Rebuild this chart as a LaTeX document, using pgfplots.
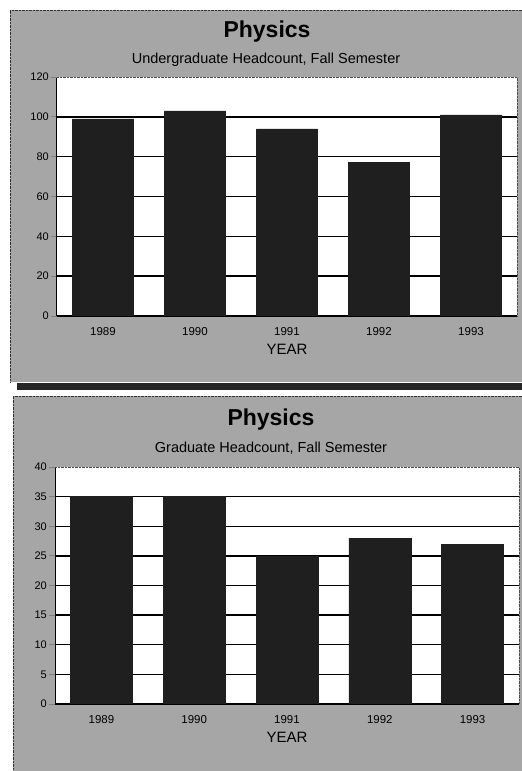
\documentclass[border=0pt]{standalone}
\usepackage{pgfplots}
\pgfplotsset{compat=1.18}
\usepackage{fontspec}
\setmainfont{Liberation Sans}
\definecolor{panel}{gray}{0.65}
\definecolor{barc}{gray}{0.12}
\pgfplotsset{
  physbars/.style={
    scale only axis,
    xmin=-0.5, xmax=4.5,
    ymin=0,
    axis lines=left,
    axis line style={-},
    x axis line style={densely dotted, line width=1pt},
    y axis line style={line width=1pt},
    axis background/.style={fill=white},
    xtick={0,1,2,3,4},
    xticklabels={1989,1990,1991,1992,1993},
    xtick style={draw=none},
    tick align=outside,
    major tick length=6pt,
    ytick style={line width=0.8pt},
    ymajorgrids,
    grid style={black, line width=1.4pt},
    extra y tick style={grid=none},
    /pgf/number format/assume math mode=true,
    yticklabel style={font=\fontsize{11}{12}\selectfont, inner sep=2pt},
    xticklabel style={font=\fontsize{11.5}{12}\selectfont, anchor=center, yshift=-10pt},
    xlabel={YEAR},
    x label style={font=\fontsize{15}{16}\selectfont, at={(axis description cs:0.5,0)}, anchor=center, yshift=-33pt},
    after end axis/.code={\draw[densely dotted, gray!60!black] (rel axis cs:0,1) -- (rel axis cs:1,1) -- (rel axis cs:1,0);},
  }
}
\begin{document}
\begin{tikzpicture}[x=1pt,y=1pt]
\useasboundingbox (0,0) rectangle (522,771);
\fill[white] (0,0) rectangle (522,771);
\fill[panel] (10,389) rectangle (522,761);
\fill[black!85] (17,381) rectangle (522,388);
\fill[panel] (13,0) rectangle (522,375);
\draw[densely dotted, gray!40!black] (10,389) -- (10,761) -- (522,761);
\draw[densely dotted, gray!40!black] (13,0) -- (13,375) -- (522,375);

\node[font=\bfseries\fontsize{23}{26}\selectfont] at (267,739) {Physics};
\node[font=\fontsize{14.5}{16}\selectfont] at (266,711) {Undergraduate Headcount, Fall Semester};
\node[font=\bfseries\fontsize{23}{26}\selectfont] at (271,351) {Physics};
\node[font=\fontsize{14.5}{16}\selectfont] at (271,323) {Graduate Headcount, Fall Semester};

\begin{axis}[physbars,
  at={(57pt,455pt)}, anchor=south west,
  width=460pt, height=239pt,
  ymax=120, ytick={0,20,...,100}, extra y ticks={120}]
\addplot[ybar, bar width=61pt, fill=barc, draw=barc] coordinates {(0,99) (1,103) (2,94) (3,77) (4,101)};
\end{axis}

\begin{axis}[physbars,
  at={(55pt,67pt)}, anchor=south west,
  width=464pt, height=237pt,
  ymax=40, ytick={0,5,...,35}, extra y ticks={40}]
\addplot[ybar, bar width=62pt, fill=barc, draw=barc] coordinates {(0,35) (1,35) (2,25) (3,28) (4,27)};
\end{axis}
\end{tikzpicture}
\end{document}
